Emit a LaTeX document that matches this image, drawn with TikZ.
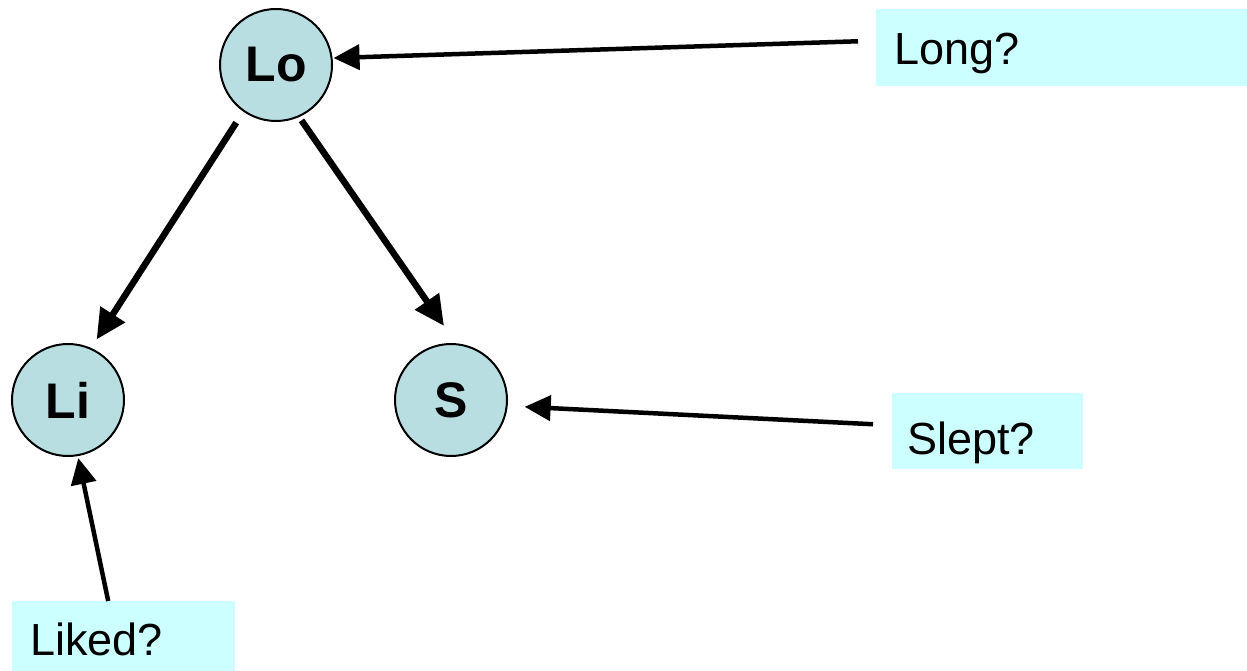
\documentclass[tikz,border=0pt]{standalone}
\usepackage{fontspec}
\setmainfont{Liberation Sans}
\usetikzlibrary{arrows.meta}
\definecolor{circfill}{HTML}{B9DEE2}
\definecolor{boxfill}{HTML}{CCFFFF}
\tikzset{
  var/.style={circle, draw=black, line width=2pt, fill=circfill, minimum size=112pt, inner sep=0pt,
    font=\fontsize{50}{60}\selectfont\bfseries},
  qbox/.style={fill=boxfill, draw=none, inner sep=0pt, anchor=north west},
  qtext/.style={inner sep=0pt, anchor=base west, font=\fontsize{45}{54}\selectfont},
  bigarr/.style={line width=6.5pt, -{Triangle[length=30pt, width=28pt]}},
  smallarr/.style={line width=4.5pt, -{Triangle[length=26pt, width=25pt]}}
}
\begin{document}
\begin{tikzpicture}[x=1pt, y=-1pt]
\useasboundingbox (0,0) rectangle (1247,671);
% variables
\node[var] (lo) at (276,65) {Lo};
\node[var] (li) at (68,400) {Li};
\node[var] (s) at (451,400) {S};
% question boxes
\node[qbox, minimum width=371pt, minimum height=77pt] (long) at (876,9) {};
\node[qbox, minimum width=191pt, minimum height=76pt] (slept) at (892,393) {};
\node[qbox, minimum width=223pt, minimum height=70pt] (liked) at (12,601) {};
\node[qtext] (longt) at (894,65) {Long?};
\node[qtext] (sleptt) at (907,454) {Slept?};
\node[qtext] (likedt) at (30,655) {Liked?};
% arrows
\draw[bigarr, shorten <=13pt, shorten >=10pt] (lo.235) -- (li.66);
\draw[bigarr, shorten <=4pt, shorten >=21pt] (lo.-66) -- (s.85);
\draw[smallarr, shorten <=18pt, shorten >=1pt] ([yshift=7pt]long.west) -- (lo.7);
\draw[smallarr, shorten <=19pt, shorten >=17pt] ([yshift=6pt]slept.west) -- (s.-6);
\draw[smallarr, shorten >=2pt] ([xshift=-15.5pt]liked.north) -- (li.-80);
\end{tikzpicture}
\end{document}
